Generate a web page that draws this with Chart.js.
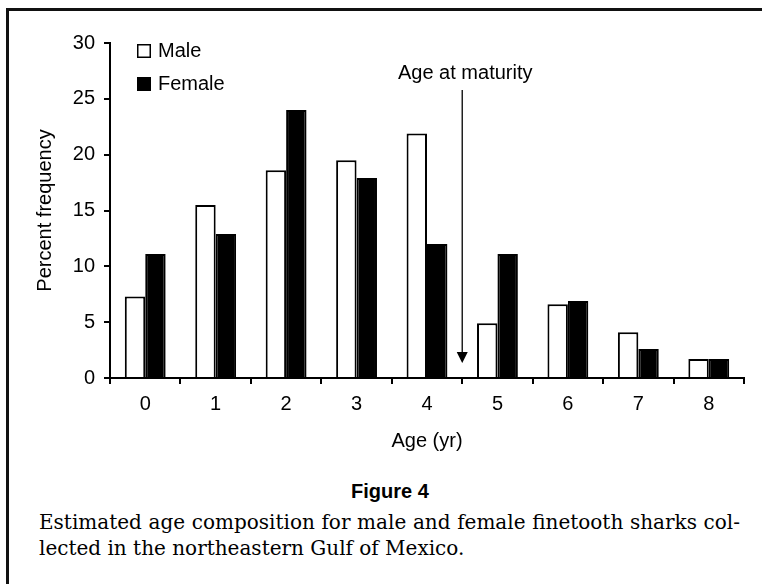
<!DOCTYPE html>
<html>
<head>
<meta charset="utf-8">
<title>Figure 4</title>
<script src="https://cdn.jsdelivr.net/npm/chart.js@4.4.1/dist/chart.umd.min.js"></script>
<style>
  html, body { margin: 0; padding: 0; background: #fff; }
  #fig { position: relative; width: 762px; height: 584px; overflow: hidden; background: #fff; }
  .frameTop { position: absolute; left: 6px; top: 8px; width: 760px; height: 3px; background: #111; }
  .frameLeft { position: absolute; left: 6px; top: 8px; width: 3px; height: 580px; background: #111; }
  #chartBox { position: absolute; left: 0; top: 0; width: 762px; height: 470px; }
  #figTitle {
    position: absolute; left: 0; top: 479px; width: 780px; text-align: center;
    font: bold 20px/24px "Liberation Sans", Arial, sans-serif; color: #000;
  }
  .cap {
    position: absolute; left: 39px; width: 701px; white-space: nowrap;
    font: 20px/26px "DejaVu Serif", serif; color: #000;
  }
  #cap1 { top: 509px; text-align: justify; text-align-last: justify; }
  #cap2 { top: 535px; text-align: left; }
</style>
</head>
<body>
<div id="fig">
  <div class="frameTop"></div>
  <div class="frameLeft"></div>
  <div id="chartBox"><canvas id="ageChart" width="762" height="470"></canvas></div>
  <div id="figTitle">Figure 4</div>
  <div class="cap" id="cap1">Estimated age composition for male and female finetooth sharks col-</div>
  <div class="cap" id="cap2">lected in the northeastern Gulf of Mexico.</div>
</div>
<script>
// values (percent frequency by age)
const ages = ['0', '1', '2', '3', '4', '5', '6', '7', '8'];
const malePct = [7.3, 15.5, 18.6, 19.5, 21.9, 4.9, 6.6, 4.1, 1.7];
const femalePct = [11.1, 12.9, 24.0, 17.9, 12.0, 11.1, 6.9, 2.6, 1.7];

// age at maturity marker (between ages 4 and 5)
const maturityAge = 4.5;
const maturityLabel = 'Age at maturity';
const arrowFrom = 25.8;
const arrowTo = 1.35;
const labelAt = 27.3;

const FONT = '"Liberation Sans", Arial, sans-serif';
Chart.defaults.font.family = FONT;
Chart.defaults.font.size = 20;
Chart.defaults.color = '#000';

const extras = {
    id: 'figureExtras',
    afterDatasetsDraw(chart) {
        const { ctx, chartArea, scales: { x, y } } = chart;
        ctx.save();

        // arrow for age at maturity
        const ax = x.getPixelForValue(maturityAge);
        const yTop = y.getPixelForValue(arrowFrom);
        const yTip = y.getPixelForValue(arrowTo);
        ctx.strokeStyle = '#000';
        ctx.lineWidth = 1.3;
        ctx.beginPath();
        ctx.moveTo(ax, yTop);
        ctx.lineTo(ax, yTip - 8);
        ctx.stroke();
        ctx.fillStyle = '#000';
        ctx.beginPath();
        ctx.moveTo(ax - 5.5, yTip - 11);
        ctx.lineTo(ax + 5.5, yTip - 11);
        ctx.lineTo(ax, yTip);
        ctx.closePath();
        ctx.fill();

        ctx.font = '20px ' + FONT;
        ctx.textAlign = 'center';
        ctx.textBaseline = 'middle';
        ctx.fillText(maturityLabel, ax + 3, y.getPixelForValue(labelAt));

        // legend inside the plot, top left
        const lx = chartArea.left + 27;
        let ly = chartArea.top + 1;
        ctx.textAlign = 'left';
        chart.data.datasets.forEach(ds => {
            ctx.fillStyle = ds.backgroundColor;
            ctx.fillRect(lx, ly, 14, 14);
            ctx.strokeStyle = '#000';
            ctx.lineWidth = 1.5;
            ctx.strokeRect(lx + 0.75, ly + 0.75, 12.5, 12.5);
            ctx.fillStyle = '#000';
            ctx.fillText(ds.label, lx + 21, ly + 7);
            ly += 33;
        });
        ctx.restore();
    }
};

const ctx = document.getElementById('ageChart');
new Chart(ctx, {
    type: 'bar',
    data: {
        labels: ages,
        datasets: [
            {
                label: 'Male',
                data: malePct,
                backgroundColor: '#fff',
                borderColor: '#000',
                borderWidth: 2
            },
            {
                label: 'Female',
                data: femalePct,
                backgroundColor: '#000',
                borderColor: '#000',
                borderWidth: 2
            }
        ]
    },
    options: {
        responsive: false,
        animation: false,
        events: [],
        layout: { padding: { left: 0, right: 18, top: 43, bottom: 12 } },
        datasets: { bar: { categoryPercentage: 0.58, barPercentage: 1.0 } },
        plugins: {
            legend: { display: false },
            tooltip: { enabled: false }
        },
        scales: {
            x: {
                offset: true,
                grid: {
                    offset: true,
                    drawOnChartArea: false,
                    drawTicks: true,
                    tickLength: 6,
                    color: '#000',
                    lineWidth: 2
                },
                border: { display: true, color: '#000', width: 2 },
                ticks: { padding: 8, font: { size: 20 } },
                title: {
                    display: true,
                    text: 'Age (yr)',
                    font: { size: 20 },
                    padding: { top: 0, bottom: 5 }
                },
                afterFit(scale) { scale.height = 80; }
            },
            y: {
                min: 0,
                max: 30,
                ticks: { stepSize: 5, padding: 9, font: { size: 20 } },
                grid: {
                    drawOnChartArea: false,
                    drawTicks: true,
                    tickLength: 6,
                    color: '#000',
                    lineWidth: 2
                },
                border: { display: true, color: '#000', width: 2 },
                title: {
                    display: true,
                    text: 'Percent frequency',
                    font: { size: 20 },
                    padding: { top: 33, bottom: 0 }
                },
                afterFit(scale) { scale.width = 110; }
            }
        }
    },
    plugins: [extras]
});
</script>
</body>
</html>
